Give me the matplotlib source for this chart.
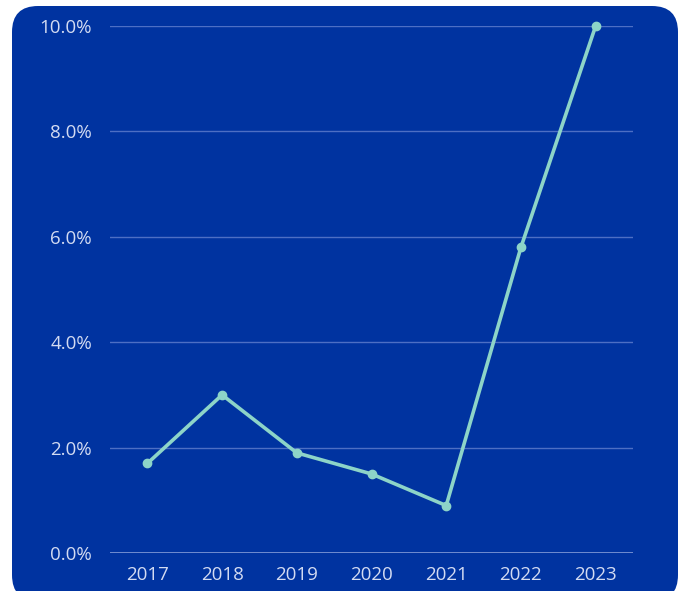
import matplotlib
matplotlib.use('Agg')
import matplotlib.pyplot as plt
from matplotlib.patches import FancyBboxPatch
from matplotlib.transforms import IdentityTransform
from matplotlib.ticker import FuncFormatter

years = ['2017', '2018', '2019', '2020', '2021', '2022', '2023']
values = [1.7, 3.0, 1.9, 1.5, 0.9, 5.8, 10.0]
yticks = [0, 2, 4, 6, 8, 10]

bg_blue = '#0033a0'
line_col = '#8dd4c8'
grid_col = '#4d6fc4'
base_col = '#8099d6'
text_col = '#d3dbf2'

plt.rcParams['font.family'] = ['Open Sans', 'DejaVu Sans']

fig = plt.figure(figsize=(6.81, 5.91), dpi=100)
fig.patch.set_facecolor('white')

# rounded blue panel, drawn in pixel coordinates
panel = FancyBboxPatch((12, -10), 666, 595, boxstyle='round,pad=0,rounding_size=26',
                       transform=IdentityTransform(), facecolor=bg_blue,
                       edgecolor='none', zorder=-5)
fig.patches.append(panel)

ax = fig.add_axes([110 / 681, 38 / 591, 523 / 681, 527 / 591])
ax.set_facecolor('none')
ax.set_zorder(1)

x = list(range(len(years)))
ax.plot(x, values, color=line_col, linewidth=2.6, marker='o', markersize=6,
        solid_capstyle='round', zorder=3, clip_on=False)
ax.axhline(0, color=base_col, linewidth=1.2, zorder=2)

ax.set_xlim(-0.5, len(years) - 0.5)
ax.set_ylim(0, 10)
ax.set_xticks(x)
ax.set_xticklabels(years)
ax.set_yticks(yticks)
ax.yaxis.set_major_formatter(FuncFormatter(lambda v, p: f'{v:.1f}%'))

ax.grid(axis='y', color=grid_col, linewidth=1)
ax.set_axisbelow(True)
for s in ax.spines.values():
    s.set_visible(False)
ax.tick_params(length=0, colors=text_col, labelsize=13.5)
ax.tick_params(axis='y', pad=13)
ax.tick_params(axis='x', pad=9)

fig.savefig('out.png', dpi=100, facecolor=fig.get_facecolor())
